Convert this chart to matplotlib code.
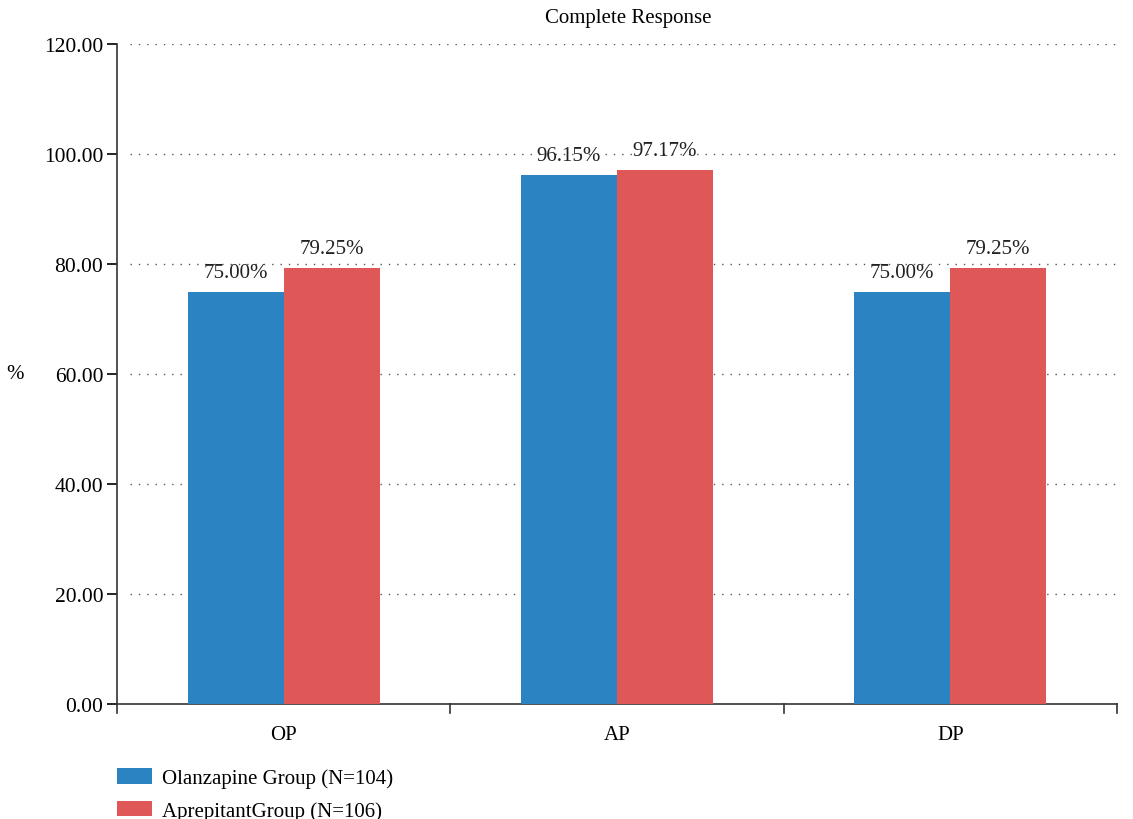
import numpy as np
import matplotlib.pyplot as plt

# ---------------- data ----------------
categories = ["OP", "AP", "DP"]
olanzapine = [75.00, 96.15, 75.00]
aprepitant = [79.25, 97.17, 79.25]
series_names = ["Olanzapine Group (N=104)", "AprepitantGroup (N=106)"]
yticks = [0, 20, 40, 60, 80, 100, 120]

BLUE = "#2B84C1"
RED = "#E05757"

plt.rcParams["font.family"] = ["Liberation Serif", "DejaVu Serif"]

fig = plt.figure(figsize=(11.33, 8.2), dpi=100)
ax = fig.add_axes([0.1033, 0.1402, 0.8826, 0.8049])

x = np.arange(len(categories))
w = 0.288
b1 = ax.bar(x - w / 2, olanzapine, w, color=BLUE, label=series_names[0], zorder=3)
b2 = ax.bar(x + w / 2, aprepitant, w, color=RED, label=series_names[1], zorder=3)

for bars, vals in ((b1, olanzapine), (b2, aprepitant)):
    for rect, v in zip(bars, vals):
        ax.text(rect.get_x() + rect.get_width() / 2, v + 1.8, f"{v:.2f}%",
                ha="center", va="bottom", fontsize=15, color="#222222", zorder=4)

ax.set_xlim(-0.5, len(categories) - 0.5)
ax.set_ylim(0, 120)
ax.set_yticks(yticks)
ax.set_yticklabels([f"{t:.2f}" for t in yticks], fontsize=15.5)
ax.set_xticks(x)
ax.set_xticklabels(categories, fontsize=15)
ax.tick_params(axis="x", length=0, pad=15)
ax.tick_params(axis="y", length=7, width=1.2, pad=3, direction="out")

# category boundary ticks on the x axis
for xb in np.arange(len(categories) + 1) - 0.5:
    ax.plot([xb, xb], [0, -1.6], color="#333333", lw=1.2, clip_on=False, zorder=5)

# dotted gridlines, starting a little right of the y axis
ax.hlines(yticks[1:], -0.46, len(categories) - 0.5, colors="#555555",
          linestyles=(0, (1, 5)), lw=1.0, zorder=0)
for s in ("top", "right"):
    ax.spines[s].set_visible(False)
ax.spines["left"].set_color("#333333")
ax.spines["left"].set_linewidth(1.2)
ax.spines["bottom"].set_color("#333333")
ax.spines["bottom"].set_linewidth(1.2)

fig.text(628 / 1133, 1 - 19 / 820, "Complete Response", ha="center", va="center", fontsize=15)
fig.text(15 / 1133, 1 - 375 / 820, "%", ha="center", va="center", fontsize=15)

fig.legend(handles=[b1, b2], labels=series_names, loc="upper left",
           bbox_to_anchor=(117 / 1133, 1 - 769 / 820), frameon=False, fontsize=15,
           borderpad=0, borderaxespad=0,
           handlelength=1.68, handleheight=0.77, handletextpad=0.48, labelspacing=0.6)

fig.savefig("out.png", dpi=100)
